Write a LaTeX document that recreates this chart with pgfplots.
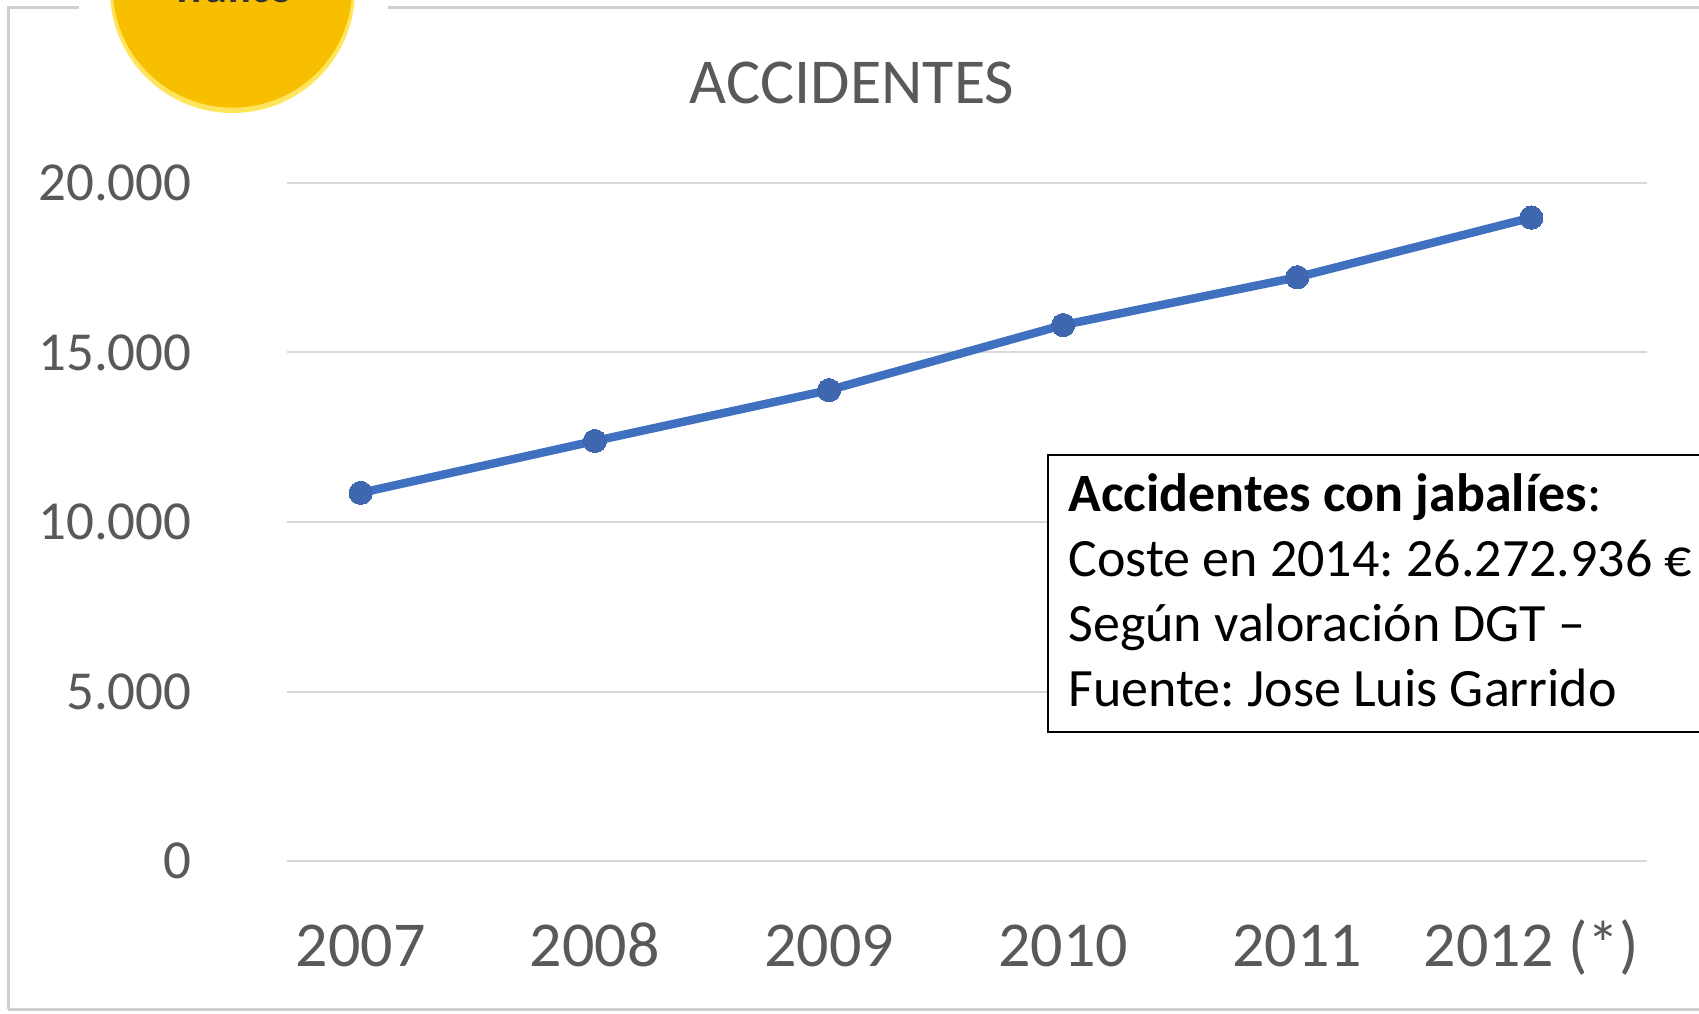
\documentclass[border=0pt]{standalone}
\usepackage{pgfplots}
\pgfplotsset{compat=1.18}
\usepackage{fontspec}
\setmainfont{Carlito}
\frenchspacing
\definecolor{tickgray}{HTML}{595959}
\definecolor{gridgray}{HTML}{D9D9D9}
\definecolor{framegray}{HTML}{CFCFCF}
\definecolor{lineblue}{HTML}{4070C0}
\definecolor{markblue}{HTML}{3F67B0}
\definecolor{badgegold}{HTML}{F8BF00}
\definecolor{badgerim}{HTML}{FFE55C}
\begin{document}
\begin{tikzpicture}
\useasboundingbox (0,0) rectangle (849.5pt,506.5pt);
\clip (0,0) rectangle (849.5pt,506.5pt);
\fill[white] (0,0) rectangle (849.5pt,506.5pt);
% frame
\draw[framegray, line width=1.5pt] (4pt,2pt) -- (4pt,502.5pt) -- (39.5pt,502.5pt);
\draw[framegray, line width=1.5pt] (194pt,502.5pt) -- (852pt,502.5pt);
\draw[framegray, line width=1.5pt] (4pt,2pt) -- (852pt,2pt);
% badge
\fill[badgerim] (116.25pt,511.25pt) circle (61.25pt);
\fill[badgegold] (116.25pt,512.5pt) circle (59.8pt);
\node[anchor=base, inner sep=0pt, font=\fontsize{22}{24}\selectfont\bfseries, text=black!80] at (116.25pt,505.2pt) {Tráfico};
% title
\node[anchor=base, inner sep=0pt, font=\fontsize{32}{38}\selectfont, text=tickgray] at (426pt,454.5pt) {ACCIDENTES};
\begin{axis}[
  at={(143.5pt,76pt)}, anchor=south west,
  scale only axis, width=680pt, height=339pt,
  xmin=-0.315, xmax=5.494, ymin=0, ymax=20000,
  axis line style={draw=none},
  tick style={draw=none},
  scaled y ticks=false,
  ymajorgrids, grid style={gridgray, line width=1pt},
  ytick={0,5000,10000,15000,20000},
  yticklabels={\mbox{0},\mbox{5.000},\mbox{10.000},\mbox{15.000},\mbox{20.000}},
  xtick={0,1,2,3,4,5},
  xticklabels={\mbox{2007},\mbox{2008},\mbox{2009},\mbox{2010},\mbox{2011},\mbox{2012 (*)}},
  /pgf/number format/assume math mode=true,
  yticklabel style={anchor=east, inner sep=0pt, xshift=-47.5pt, font=\fontsize{27.5}{30}\selectfont, text=tickgray},
  xticklabel style={anchor=base, inner sep=0pt, yshift=-52.75pt, font=\fontsize{32}{36}\selectfont, text=tickgray},
  clip=false,
]
\addplot[lineblue, line width=4.2pt, mark=*, mark size=5.8pt, mark options={fill=markblue, draw=markblue, line width=0pt}]
  coordinates {(0,10860) (1,12390) (2,13890) (3,15810) (4,17220) (5,18980)};
\end{axis}
% annotation box
\draw[black, line width=1pt, fill=white] (523.9pt,140.25pt) rectangle (860pt,279pt);
\node[anchor=base west, inner sep=0pt, align=left, font=\fontsize{27}{32.5}\selectfont] at (534pt,153.15pt)
  {\textbf{Accidentes con jabalíes}:\\Coste en 2014: 26.272.936 €\\Según valoración DGT –\\Fuente: Jose Luis Garrido};
\end{tikzpicture}
\end{document}
